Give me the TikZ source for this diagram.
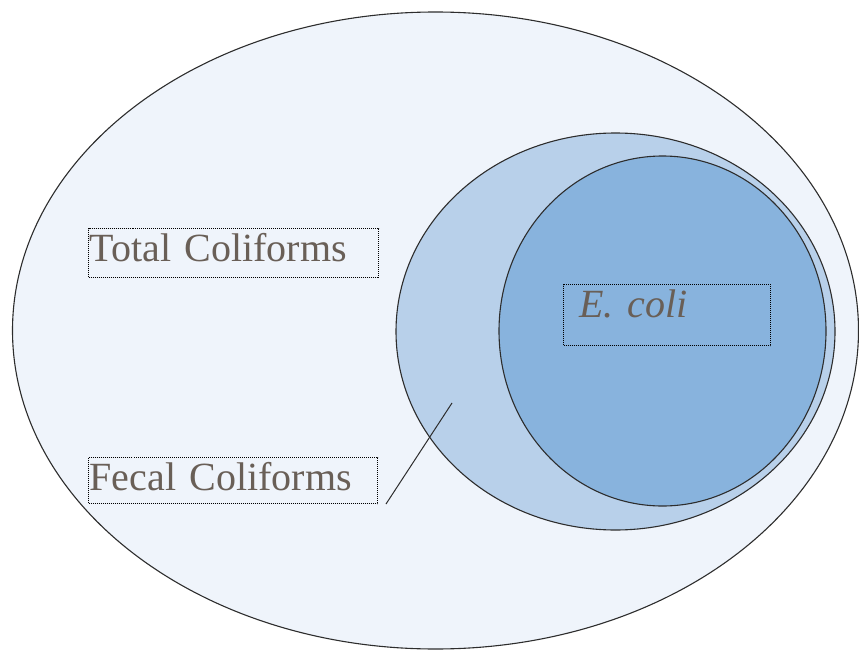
\documentclass[tikz,border=0pt]{standalone}
\usepackage{fontspec}
\setmainfont{Liberation Serif}
\usetikzlibrary{positioning, shapes.geometric}
\definecolor{clOuter}  {RGB}{239,244,251}
\definecolor{clMiddle} {RGB}{184,208,234}
\definecolor{clInner}  {RGB}{136,179,221}
\definecolor{clLine}   {RGB}{ 45, 45, 45}
\definecolor{clText}   {RGB}{105, 95, 87}
\tikzset{
  %% venn region
  zone/.style={
    ellipse, inner sep=0pt, outer sep=0pt,
    draw=clLine, line width=1.1pt
  },
  %% dotted label box
  lbl/.style={
    rectangle, draw=black, dash pattern=on 1pt off 1pt, line width=1pt,
    anchor=north west, align=left, text=clText,
    font=\fontsize{40}{44}\selectfont,
    inner xsep=1pt, inner ysep=2pt, text height=31pt
  },
  %% leader line
  leader/.style={draw=clLine, line width=1pt}
}
\begin{document}
\begin{tikzpicture}[x=1pt, y=-1pt]

\useasboundingbox (0,0) rectangle (859,650);

%% ═══════════════════════════════════════════════════════════════
%%  REGIONS
%% ═══════════════════════════════════════════════════════════════

\node[zone, fill=clOuter,  minimum width=846pt, minimum height=637pt] (total) at (435.5,330.5) {};
\node[zone, fill=clMiddle, minimum width=439pt, minimum height=397pt] (fecalZone) at (615.5,331.5) {};
\node[zone, fill=clInner,  minimum width=327pt, minimum height=350pt] (ecoliZone) at (662.5,331) {};

%% ═══════════════════════════════════════════════════════════════
%%  LABELS
%% ═══════════════════════════════════════════════════════════════

\node[lbl, text width=288pt, text depth=14pt] (totalLbl) at (88,228) {Total Coliforms};
\node[lbl, text width=287pt, text depth=11pt] (fecalLbl) at (88,457) {Fecal Coliforms};
\node[lbl, inner xsep=16pt, text width=175pt, text depth=26pt] (ecoliLbl) at (563,284) {\itshape E. coli};

%% ═══════════════════════════════════════════════════════════════
%%  LEADER — Fecal Coliforms
%% ═══════════════════════════════════════════════════════════════

\coordinate (fecalTip) at (452,403);
\draw[leader] ([xshift=8pt]fecalLbl.south east) -- (fecalTip);

\end{tikzpicture}
\end{document}
